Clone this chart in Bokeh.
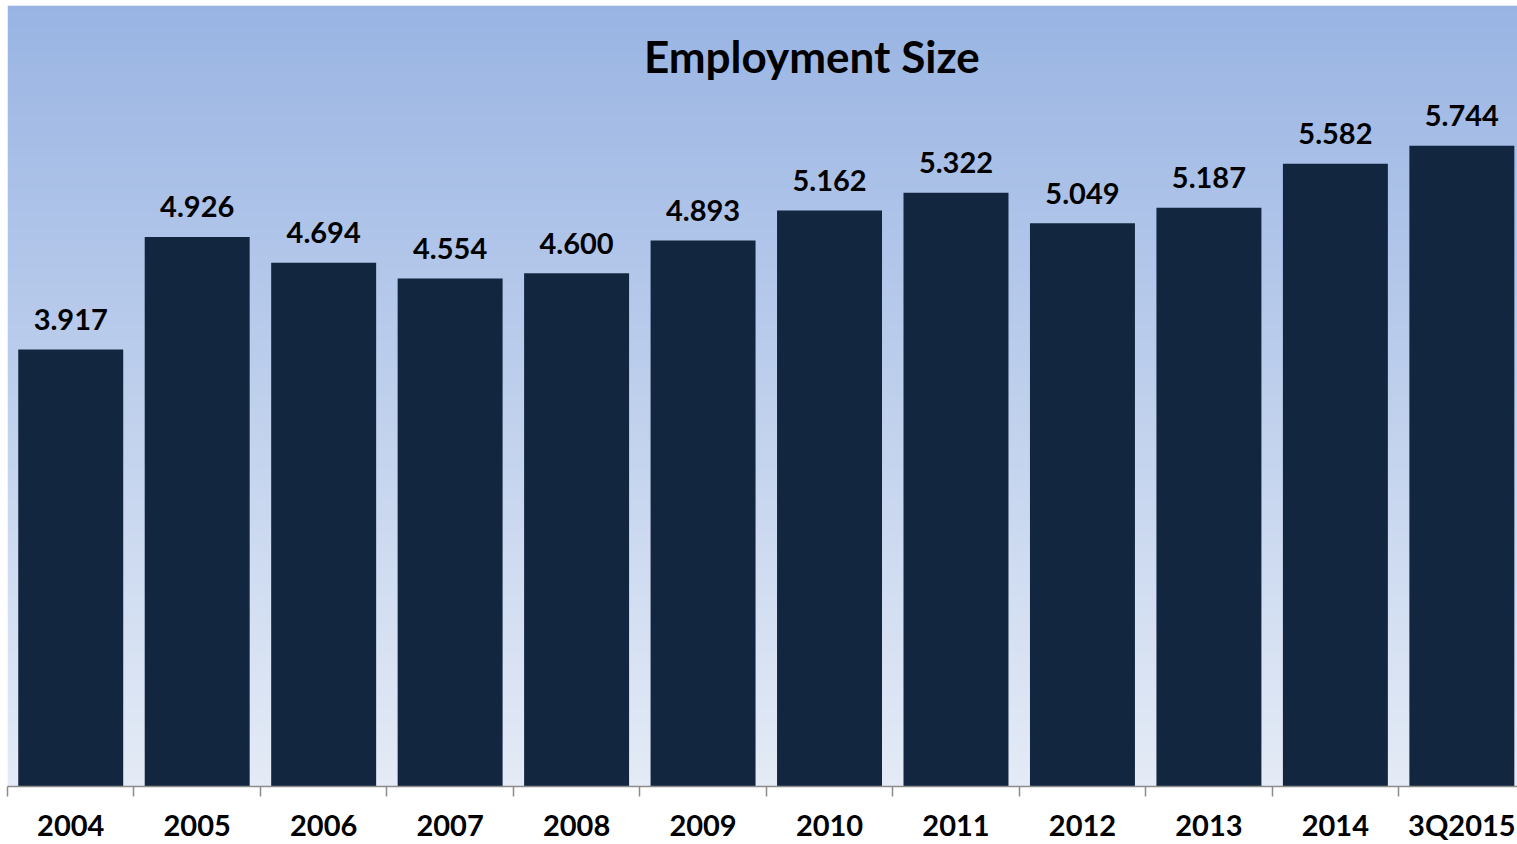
import numpy as np
from bokeh.plotting import figure
from bokeh.models import Range1d, FixedTicker, Label, ColumnDataSource
from bokeh.embed import file_html
from bokeh.resources import INLINE
from bokeh.core.properties import value

categories = ["2004", "2005", "2006", "2007", "2008", "2009",
              "2010", "2011", "2012", "2013", "2014", "3Q2015"]
employment = [3.917, 4.926, 4.694, 4.554, 4.600, 4.893,
              5.162, 5.322, 5.049, 5.187, 5.582, 5.744]
title_text = "Employment Size"

n = len(categories)
centers = [i + 0.5 for i in range(n)]
labels = [f"{v:.3f}" for v in employment]
src = ColumnDataSource(dict(x=centers, top=employment, label=labels, cat=categories))

Y_MAX = 7
p = figure(width=1517, height=844,
           x_range=Range1d(0, n - 0.06), y_range=Range1d(0, Y_MAX),
           output_backend="svg", toolbar_location=None,
           min_border_left=7, min_border_right=0, min_border_top=5, min_border_bottom=0)
p.outline_line_color = None
p.background_fill_color = "white"
p.border_fill_color = "white"
p.grid.visible = False
p.yaxis.visible = False

# vertical gradient background of the plot frame
rows = 800
c_top = np.array([0x99, 0xB4, 0xE3], dtype=float)
c_bot = np.array([0xE4, 0xEB, 0xF6], dtype=float)
t = np.linspace(0, 1, rows)[:, None]
rgb = np.round(c_bot * (1 - t) + c_top * t).astype(np.uint8)
img = np.empty((rows, 1), dtype=np.uint32)
view = img.view(dtype=np.uint8).reshape((rows, 1, 4))
view[:, 0, 0] = rgb[:, 0]
view[:, 0, 1] = rgb[:, 1]
view[:, 0, 2] = rgb[:, 2]
view[:, 0, 3] = 255
p.image_rgba(image=[img], x=0, y=0, dw=n, dh=Y_MAX)

p.vbar(x="x", top="top", bottom=0, width=0.83, source=src,
       fill_color="#13263F", line_color=None)

p.text(x="x", y="top", text="label", source=src,
       text_align="center", text_baseline="middle", y_offset=-30,
       text_font=value("Lato"), text_font_style="bold",
       text_font_size="29px", text_color="black")

p.add_layout(Label(x=6.36, y=6.55, text=title_text,
                   text_align="center", text_baseline="middle",
                   text_font="Lato", text_font_style="bold",
                   text_font_size="44px", text_color="black"))

ax = p.xaxis[0]
ax.ticker = FixedTicker(ticks=centers, minor_ticks=list(range(n + 1)))
ax.major_label_overrides = {c: cat for c, cat in zip(centers, categories)}
ax.major_tick_line_color = None
ax.major_tick_out = 0
ax.major_tick_in = 0
ax.minor_tick_out = 10
ax.minor_tick_in = 0
ax.minor_tick_line_color = "#8C8C8C"
ax.minor_tick_line_width = 1.5
ax.axis_line_color = "#8C8C8C"
ax.axis_line_width = 1.5
ax.major_label_standoff = 10
ax.major_label_text_font = "Lato"
ax.major_label_text_font_style = "bold"
ax.major_label_text_font_size = "29px"
ax.major_label_text_color = "black"

open("out.html", "w").write(file_html(p, INLINE))
